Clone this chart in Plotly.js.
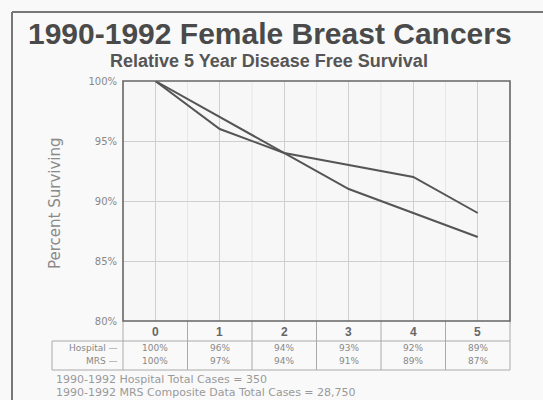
<!DOCTYPE html>
<html>
<head>
<meta charset="utf-8">
<script src="https://cdn.plot.ly/plotly-3.0.1.min.js"></script>
<style>
  html, body { margin: 0; padding: 0; background: #f9f9f9; }
  #chart { width: 543px; height: 400px; }
</style>
</head>
<body>
<div id="chart"></div>
<script>
// ---- data ----
const years = [0, 1, 2, 3, 4, 5];
const hospital = [100, 96, 94, 93, 92, 89];
const mrs = [100, 97, 94, 91, 89, 87];
const yTicks = [80, 85, 90, 95, 100];
const titleText = "1990-1992 Female Breast Cancers";
const subtitleText = "Relative 5 Year Disease Free Survival";
const yTitle = "Percent Surviving";
const rowLabels = ["Hospital \u2014", "MRS \u2014"];
const footnotes = [
  "1990-1992 Hospital Total Cases = 350",
  "1990-1992 MRS Composite Data Total Cases = 28,750"
];

// ---- geometry helpers (pixel -> paper) ----
const L = 123, R = 510, T = 81, B = 321, W = 543, H = 400;
const px = x => (x - L) / (R - L);
const py = y => (B - y) / (B - T);

const lineColor = '#555';
const traces = [
  { x: years, y: hospital, mode: 'lines', line: { color: lineColor, width: 2 }, name: 'Hospital', hoverinfo: 'x+y' },
  { x: years, y: mrs, mode: 'lines', line: { color: lineColor, width: 2 }, name: 'MRS', hoverinfo: 'x+y' }
];

const shapes = [];
const tblLine = { color: '#aaa', width: 1 };
const n = years.length;
// column boundaries of the table
for (let i = 0; i <= n; i++) {
  const xp = i / n;
  shapes.push({ type: 'line', xref: 'paper', yref: 'paper', x0: xp, x1: xp, y0: 0, y1: py(370), line: tblLine });
}
// table horizontal lines
shapes.push({ type: 'line', xref: 'paper', yref: 'paper', x0: px(52), x1: 1, y0: py(341), y1: py(341), line: tblLine });
shapes.push({ type: 'line', xref: 'paper', yref: 'paper', x0: px(52), x1: 1, y0: py(370), y1: py(370), line: tblLine });
shapes.push({ type: 'line', xref: 'paper', yref: 'paper', x0: px(52), x1: px(52), y0: py(341), y1: py(370), line: tblLine });
// faint half-year grid lines inside plot
for (let i = 1; i < n; i++) {
  const xp = i / n;
  shapes.push({ type: 'line', xref: 'paper', yref: 'paper', x0: xp, x1: xp, y0: 0, y1: 1, layer: 'below', line: { color: '#e6e6e6', width: 1 } });
}
// plot frame
shapes.push({ type: 'rect', xref: 'paper', yref: 'paper', x0: 0, x1: 1, y0: 0, y1: 1, line: { color: '#666', width: 1.6 } });
// outer page border (left and top)
shapes.push({ type: 'line', xref: 'paper', yref: 'paper', x0: px(12), x1: px(12), y0: py(12), y1: py(410), line: { color: '#777', width: 2 } });
shapes.push({ type: 'line', xref: 'paper', yref: 'paper', x0: px(12), x1: px(560), y0: py(12), y1: py(12), line: { color: '#777', width: 2 } });

const annotations = [];
const font = (size, color, weight, fam) => ({ family: fam || 'Liberation Sans, Arial, sans-serif', size: size, color: color, weight: weight || 400 });
const DV = 'DejaVu Sans, sans-serif';
annotations.push({ xref: 'paper', yref: 'paper', x: px(270), y: py(33), text: titleText, showarrow: false, xanchor: 'center', yanchor: 'middle', font: font(30, '#4a4a4a', 700) });
annotations.push({ xref: 'paper', yref: 'paper', x: px(269), y: py(61), text: subtitleText, showarrow: false, xanchor: 'center', yanchor: 'middle', font: font(18, '#555', 700) });
annotations.push({ xref: 'paper', yref: 'paper', x: px(55), y: py(203), text: yTitle, textangle: -90, showarrow: false, xanchor: 'center', yanchor: 'middle', font: font(15, '#8a8a8a', 400, DV) });
// table header (years)
years.forEach(yr => {
  annotations.push({ xref: 'x', yref: 'paper', x: yr, y: py(332), text: String(yr), showarrow: false, xanchor: 'center', yanchor: 'middle', font: font(12, '#666', 700) });
});
// table rows
const rows = [hospital, mrs];
const rowY = [348, 361];
rows.forEach((vals, r) => {
  annotations.push({ xref: 'paper', yref: 'paper', x: px(120), y: py(rowY[r]), text: rowLabels[r], showarrow: false, xanchor: 'right', yanchor: 'middle', font: font(9, '#888', 400, DV) });
  vals.forEach((v, i) => {
    annotations.push({ xref: 'x', yref: 'paper', x: years[i], y: py(rowY[r]), text: v + '%', showarrow: false, xanchor: 'center', yanchor: 'middle', font: font(9, '#888', 400, DV) });
  });
});
// footnotes
footnotes.forEach((t, i) => {
  annotations.push({ xref: 'paper', yref: 'paper', x: px(54), y: py([379, 392][i]), text: t, showarrow: false, xanchor: 'left', yanchor: 'middle', font: font(11, '#999', 400, DV) });
});

const layout = {
  width: W, height: H,
  margin: { l: L, r: W - R, t: T, b: H - B, pad: 0 },
  paper_bgcolor: '#f9f9f9',
  plot_bgcolor: '#f7f7f7',
  showlegend: false,
  xaxis: {
    range: [-0.5, 5.5], tickvals: years, showticklabels: false,
    showgrid: true, gridcolor: '#cfcfcf', gridwidth: 1, zeroline: false, showline: false, fixedrange: true
  },
  yaxis: {
    range: [80, 100], tickvals: yTicks, ticktext: yTicks.map(v => v + '%'),
    showgrid: true, gridcolor: '#cfcfcf', gridwidth: 1, zeroline: false, showline: false,
    ticks: '', ticklabelstandoff: 5, tickfont: font(10, '#888', 400, DV), fixedrange: true
  },
  shapes: shapes,
  annotations: annotations
};

Plotly.newPlot('chart', traces, layout, { displayModeBar: false, staticPlot: true });
</script>
</body>
</html>
